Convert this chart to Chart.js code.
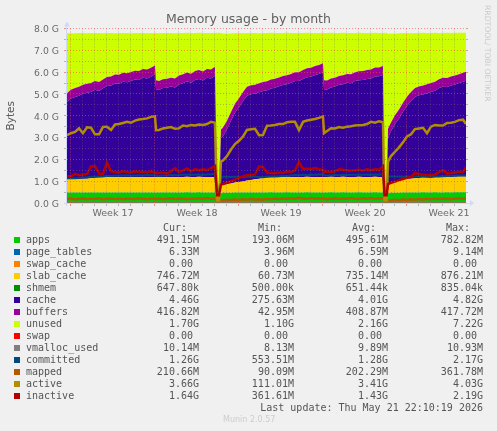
<!DOCTYPE html>
<html><head><meta charset="utf-8">
<script src="https://cdn.jsdelivr.net/npm/chart.js@4"></script>
<style>
html,body{margin:0;padding:0;background:#f0f0f0;width:497px;height:431px;overflow:hidden}
#wrap{position:relative;width:497px;height:431px}
canvas{position:absolute;left:0;top:0}
.t{position:absolute;font:10px/12px "DejaVu Sans Mono",monospace;color:#555;white-space:pre}
.r{text-align:right}
.sw{position:absolute;width:6px;height:6px}
</style></head><body><div id="wrap"><canvas id="c" width="497" height="431"></canvas></div>
<script>
const days=[0,.33,.67,1,1.33,1.67,2,2.33,2.67,3,3.33,3.67,4,4.33,4.67,5,5.33,5.67,6,6.33,6.67,7,7.33,
7.42,7.67,8,8.33,8.67,9,9.33,9.67,10,10.33,10.67,11,11.33,11.67,12,12.33,
12.5,12.67,12.83,
13,13.33,13.67,14,14.33,14.67,15,15.33,15.67,16,16.33,16.67,17,17.33,17.67,18,18.33,18.67,19,19.33,19.67,20,20.33,20.67,21,21.33,
21.42,21.67,22,22.33,22.67,23,23.33,23.67,24,24.33,24.67,25,25.33,25.67,26,26.33,
26.46,26.63,26.75,
27,27.33,27.67,28,28.33,28.67,29,29.33,29.67,30,30.33,30.67,31,31.33,31.67,32,32.33,32.67,33,33.25];
const apps=[.48,.48,.47,.48,.48,.47,.48,.48,.48,.47,.48,.48,.47,.48,.48,.48,.47,.48,.48,.48,.47,.48,.48,
.48,.47,.48,.48,.48,.47,.48,.48,.49,.48,.48,.49,.48,.48,.48,.48,
.2,.2,.45,
.46,.47,.47,.48,.48,.47,.48,.48,.48,.47,.48,.48,.49,.48,.48,.48,.49,.48,.48,.48,.48,.49,.48,.48,.48,.48,
.48,.48,.49,.48,.48,.49,.48,.48,.48,.49,.48,.48,.48,.49,.48,.48,
.2,.2,.45,
.46,.47,.47,.48,.48,.47,.48,.48,.49,.48,.48,.49,.48,.48,.49,.48,.49,.49,.49,.49];
const page_tables=[.006,.006,.006,.006,.006,.006,.006,.006,.006,.006,.007,.007,.007,.007,.007,.007,.007,.007,.007,.007,.007,.007,.007,
.007,.007,.007,.007,.007,.007,.007,.007,.007,.007,.007,.007,.007,.007,.007,.007,
.004,.004,.005,
.005,.005,.005,.005,.006,.006,.006,.006,.006,.006,.006,.006,.007,.007,.007,.007,.007,.007,.007,.007,.007,.007,.007,.007,.007,.007,
.007,.007,.007,.007,.007,.007,.007,.007,.007,.007,.007,.007,.007,.007,.007,.007,
.004,.004,.005,
.005,.005,.005,.005,.006,.006,.006,.006,.006,.006,.006,.006,.006,.006,.006,.006,.006,.006,.006,.006];
const swap_cache=[0,0,0,0,0,0,0,0,0,0,0,0,0,0,0,0,0,0,0,0,0,0,0,
0,0,0,0,0,0,0,0,0,0,0,0,0,0,0,0,
0,0,0,
0,0,0,0,0,0,0,0,0,0,0,0,0,0,0,0,0,0,0,0,0,0,0,0,0,0,
0,0,0,0,0,0,0,0,0,0,0,0,0,0,0,0,
0,0,0,
0,0,0,0,0,0,0,0,0,0,0,0,0,0,0,0,0,0,0,0];
const slab_cache=[.61,.61,.61,.62,.63,.64,.65,.67,.68,.69,.7,.7,.71,.71,.71,.71,.71,.71,.71,.71,.71,.71,.71,
.71,.71,.71,.71,.71,.71,.71,.71,.71,.71,.71,.71,.71,.71,.71,.71,
.06,.06,.33,
.36,.39,.42,.45,.48,.51,.54,.57,.6,.63,.66,.68,.7,.71,.71,.71,.71,.71,.71,.71,.71,.71,.71,.71,.71,.71,
.71,.71,.71,.71,.71,.71,.71,.71,.71,.71,.71,.71,.71,.71,.71,.71,
.06,.06,.36,
.43,.5,.55,.59,.62,.64,.65,.66,.67,.68,.68,.69,.7,.7,.71,.71,.71,.72,.72,.72];
const shmem=[.0006,.0006,.0006,.0006,.0006,.0006,.0006,.0006,.0006,.0006,.0006,.0006,.0006,.0006,.0006,.0006,.0006,.0006,.0006,.0006,.0006,.0006,.0006,
.0006,.0006,.0006,.0006,.0006,.0006,.0006,.0006,.0006,.0006,.0006,.0006,.0006,.0006,.0006,.0006,
.0005,.0005,.0005,
.0006,.0006,.0006,.0006,.0006,.0006,.0006,.0006,.0006,.0006,.0006,.0006,.0006,.0006,.0006,.0006,.0006,.0006,.0006,.0006,.0006,.0006,.0006,.0006,.0006,.0006,
.0006,.0006,.0006,.0006,.0006,.0006,.0006,.0006,.0006,.0006,.0006,.0006,.0006,.0006,.0006,.0006,
.0005,.0005,.0005,
.0006,.0006,.0006,.0006,.0006,.0006,.0006,.0006,.0006,.0006,.0006,.0006,.0006,.0006,.0006,.0006,.0006,.0006,.0006,.0006];
const cache=[3.54,3.69,3.77,3.81,3.9,3.94,3.95,4.03,3.97,4.09,4.18,4.2,4.29,4.27,4.36,4.34,4.41,4.46,4.44,4.54,4.52,4.59,4.7,
4.02,3.99,4.07,4.09,4.14,4.11,4.24,4.29,4.37,4.32,4.44,4.48,4.42,4.54,4.51,4.64,
.28,.28,2.18,
2.24,2.51,2.88,3.2,3.42,3.69,3.89,3.93,3.92,3.97,3.99,4,4.05,4.09,4.15,4.21,4.24,4.31,4.39,4.39,4.49,4.56,4.59,4.67,4.72,4.8,
4.02,4.01,4.09,4.14,4.22,4.24,4.31,4.29,4.39,4.42,4.44,4.49,4.51,4.59,4.61,4.67,
.28,.28,2.19,
2.39,2.65,2.85,3.11,3.35,3.56,3.73,3.79,3.81,3.87,3.92,3.96,4.08,4.14,4.11,4.19,4.23,4.28,4.34,4.39];
const buffers=[.4,.4,.41,.41,.41,.41,.41,.41,.41,.41,.41,.41,.41,.41,.41,.41,.41,.41,.41,.41,.41,.41,.41,
.41,.41,.41,.41,.41,.41,.41,.41,.41,.41,.41,.41,.41,.41,.41,.41,
.04,.04,.4,
.4,.4,.4,.41,.41,.41,.41,.41,.41,.41,.41,.41,.41,.41,.41,.41,.41,.41,.41,.41,.41,.41,.41,.41,.41,.41,
.41,.41,.41,.41,.41,.41,.41,.41,.41,.41,.41,.41,.41,.41,.41,.41,
.04,.04,.4,
.4,.4,.41,.41,.41,.41,.41,.41,.41,.41,.41,.41,.41,.41,.41,.41,.41,.41,.41,.41];
const unused=[2.75,2.6,2.52,2.47,2.37,2.32,2.3,2.2,2.25,2.12,2.02,2,1.9,1.92,1.83,1.85,1.78,1.73,1.75,1.65,1.67,1.6,1.49,
2.17,2.2,2.12,2.1,2.05,2.08,1.95,1.9,1.82,1.87,1.75,1.71,1.77,1.65,1.68,1.55,
7.22,7.22,4.43,
4.3,4,3.6,3.25,3,2.7,2.47,2.4,2.38,2.3,2.25,2.22,2.15,2.1,2.04,1.98,1.95,1.88,1.8,1.8,1.7,1.63,1.6,1.52,1.47,1.39,
2.17,2.18,2.1,2.05,1.97,1.95,1.88,1.9,1.8,1.77,1.75,1.7,1.68,1.6,1.58,1.52,
7.22,7.22,4.35,
4.08,3.75,3.5,3.2,2.93,2.7,2.52,2.45,2.42,2.35,2.3,2.25,2.12,2.06,2.08,2,1.96,1.9,1.84,1.79];
const swap=[0,0,0,0,0,0,0,0,0,0,0,0,0,0,0,0,0,0,0,0,0,0,0,
0,0,0,0,0,0,0,0,0,0,0,0,0,0,0,0,
0,0,0,
0,0,0,0,0,0,0,0,0,0,0,0,0,0,0,0,0,0,0,0,0,0,0,0,0,0,
0,0,0,0,0,0,0,0,0,0,0,0,0,0,0,0,
0,0,0,
0,0,0,0,0,0,0,0,0,0,0,0,0,0,0,0,0,0,0,0];
const vmalloc_used=[.01,.01,.01,.01,.01,.01,.01,.01,.01,.01,.01,.01,.01,.01,.01,.01,.01,.01,.01,.01,.01,.01,.01,
.01,.01,.01,.01,.01,.01,.01,.01,.01,.01,.01,.01,.01,.01,.01,.01,
.008,.008,.009,
.009,.009,.009,.01,.01,.01,.01,.01,.01,.01,.01,.01,.01,.01,.01,.01,.01,.01,.01,.01,.01,.01,.01,.01,.01,.01,
.01,.01,.01,.01,.01,.01,.01,.01,.01,.01,.01,.01,.01,.01,.01,.01,
.008,.008,.009,
.009,.009,.009,.01,.01,.01,.01,.01,.01,.01,.01,.01,.01,.01,.01,.01,.01,.01,.01,.01];
const committed=[1.13,1.13,1.14,1.15,1.17,1.18,1.2,1.2,1.22,1.23,1.24,1.24,1.26,1.25,1.26,1.27,1.25,1.26,1.27,1.26,1.28,1.27,1.28,
1.25,1.24,1.26,1.26,1.28,1.27,1.28,1.3,1.29,1.3,1.3,1.31,1.3,1.31,1.32,1.34,
.55,.55,1.2,
1.2,1.2,1.19,1.2,1.2,1.19,1.2,1.2,1.2,1.19,1.18,1.2,1.22,1.21,1.23,1.25,1.24,1.26,1.28,1.27,1.29,1.28,1.3,1.29,1.31,1.32,
1.27,1.26,1.27,1.28,1.27,1.29,1.28,1.3,1.29,1.3,1.29,1.31,1.3,1.31,1.3,1.33,
.55,.55,1.22,
1.22,1.21,1.22,1.2,1.21,1.2,1.22,1.21,1.22,1.2,1.19,1.21,1.22,1.23,1.24,1.25,1.25,1.26,1.26,1.26];
const mapped=[.18,.2,.16,.19,.21,.17,.2,.18,.22,.17,.19,.21,.18,.2,.17,.21,.19,.18,.22,.19,.17,.2,.21,
.18,.2,.17,.19,.22,.18,.2,.21,.17,.2,.19,.22,.18,.23,.2,.21,
.09,.09,.14,
.13,.15,.14,.16,.14,.17,.15,.18,.16,.17,.15,.19,.17,.2,.18,.21,.19,.22,.2,.24,.21,.19,.23,.2,.22,.21,
.19,.17,.2,.22,.18,.21,.19,.23,.2,.18,.22,.2,.23,.19,.21,.22,
.09,.09,.13,
.12,.15,.13,.16,.14,.17,.15,.18,.16,.19,.17,.2,.18,.21,.19,.17,.2,.22,.19,.21];
const active=[3.11,3.2,3.26,3.42,3.2,3.47,3.45,3.15,3.15,3.49,3.5,3.35,3.6,3.62,3.67,3.72,3.68,3.78,3.83,3.85,3.88,3.95,3.98,
3.34,3.35,3.42,3.45,3.48,3.4,3.42,3.55,3.52,3.58,3.55,3.6,3.58,3.62,3.72,3.68,
.11,.11,1.9,
1.95,2.15,2.45,2.7,2.85,3.05,3.35,3.38,3.4,3.11,3.12,3.54,3.55,3.58,3.62,3.62,3.7,3.72,3.72,3.34,3.72,3.78,3.82,3.85,3.9,3.97,
3.2,3.3,3.43,3.42,3.48,3.45,3.5,3.52,3.55,3.57,3.58,3.62,3.72,3.68,3.75,3.7,
.11,.11,1.9,
2.15,2.35,2.55,2.78,3.05,3.15,3.39,3.42,3.45,3.2,3.5,3.57,3.55,3.55,3.67,3.68,3.72,3.8,3.82,3.62];
const inactive=[1.24,1.22,1.33,1.27,1.3,1.33,1.68,1.7,1.35,1.33,1.85,1.45,1.42,1.4,1.45,1.42,1.4,1.45,1.42,1.43,1.4,1.44,1.4,
1.37,1.38,1.4,1.35,1.45,1.6,1.42,1.5,1.58,1.45,1.55,1.5,1.55,1.5,1.6,1.7,
.36,.36,.85,
.87,.93,1,1.07,1.15,1.22,1.27,1.28,1.3,1.68,1.65,1.4,1.38,1.36,1.4,1.38,1.45,1.42,1.5,1.88,1.55,1.58,1.55,1.6,1.55,1.52,
1.42,1.44,1.42,1.45,1.55,1.52,1.5,1.48,1.5,1.52,1.48,1.55,1.5,1.55,1.52,1.68,
.36,.36,.87,
.92,.98,1.05,1.1,1.15,1.2,1.38,1.32,1.3,1.28,1.27,1.3,1.42,1.5,1.35,1.38,1.4,1.42,1.42,1.62];

const yTicks=[0,.5,1,1.5,2,2.5,3,3.5,4,4.5,5,5.5,6,6.5,7,7.5,8];
const weekLabels=["Week 17","Week 18","Week 19","Week 20","Week 21"];
const weekCentres=[3.83,10.83,17.83,24.83,31.83];
const weekStarts=[.33,7.33,14.33,21.33,28.33];
const dayLines=[.33,1.33,2.33,3.33,4.33,5.33,6.33,7.33,8.33,9.33,10.33,11.33,12.33,13.33,14.33,15.33,16.33,17.33,18.33,19.33,20.33,21.33,22.33,23.33,24.33,25.33,26.33,27.33,28.33,29.33,30.33,31.33,32.33];

const names=["apps","page_tables","swap_cache","slab_cache","shmem","cache","buffers","unused","swap","vmalloc_used","committed","mapped","active","inactive"];
const colours=["#00CC00","#0066B3","#FF8000","#FFCC00","#008F00","#330099","#990099","#CCFF00","#FF0000","#808080","#00487D","#B35A00","#B38F00","#B30000"];
const curText=["491.15M","6.33M","0.00 ","746.72M","647.80k","4.46G","416.82M","1.70G","0.00 ","10.14M","1.26G","210.66M","3.66G","1.64G"];
const minText=["193.06M","3.96M","0.00 ","60.73M","500.00k","275.63M","42.95M","1.10G","0.00 ","8.13M","553.51M","90.09M","111.01M","361.61M"];
const avgText=["495.61M","6.59M","0.00 ","735.14M","651.44k","4.01G","408.87M","2.16G","0.00 ","9.89M","1.28G","202.29M","3.41G","1.43G"];
const maxText=["782.82M","9.14M","0.00 ","876.21M","835.04k","4.82G","417.72M","7.22G","0.00 ","10.93M","2.17G","361.78M","4.03G","2.19G"];

const pts=a=>a.map((v,i)=>({x:days[i],y:v}));
const area=(i,a,fill)=>({label:names[i],data:pts(a),yAxisID:'y',fill,backgroundColor:colours[i],borderColor:colours[i],borderWidth:0,pointRadius:0,tension:0});
const line=(i,a,w)=>({label:names[i],data:pts(a),yAxisID:'y2',fill:false,borderColor:colours[i],borderWidth:w,pointRadius:0,tension:0});
const isStart=v=>weekStarts.includes(v), isMid=v=>weekCentres.includes(v);
const yGrid=c=>{const v=c.tick&&c.tick.value;return Number.isInteger(v)?'rgba(240,80,50,.6)':'rgba(110,110,110,.45)';};

// Axis lines and arrow heads, as rrdtool draws them
const arrows={id:'arrows',afterDraw(ch){
  const g=ch.ctx,a=ch.chartArea;g.save();g.fillStyle='#cfd8f8';g.strokeStyle='#cfd8f8';g.lineWidth=1;
  g.beginPath();g.moveTo(a.left-.5,a.top-2);g.lineTo(a.left-.5,a.bottom+3);g.stroke();
  g.beginPath();g.moveTo(a.left-3,a.bottom+.5);g.lineTo(a.right+4,a.bottom+.5);g.stroke();
  g.beginPath();g.moveTo(a.left-3,a.top-2);g.lineTo(a.left+3,a.top-2);g.lineTo(a.left,a.top-7);g.fill();
  g.beginPath();g.moveTo(a.right+4,a.bottom-3);g.lineTo(a.right+4,a.bottom+3);g.lineTo(a.right+8,a.bottom);g.fill();
  g.restore();
}};

new Chart(document.getElementById('c'),{
  type:'line',
  data:{datasets:[
    line(13,inactive,2.5),line(12,active,2.5),line(11,mapped,2.5),line(10,committed,2),line(9,vmalloc_used,1),line(8,swap,1),
    area(0,apps,'origin'),area(1,page_tables,'-1'),area(2,swap_cache,'-1'),area(3,slab_cache,'-1'),
    area(4,shmem,'-1'),area(5,cache,'-1'),area(6,buffers,'-1'),area(7,unused,'-1')
  ]},
  plugins:[arrows],
  options:{
    responsive:false,animation:false,devicePixelRatio:1,
    layout:{padding:0},
    plugins:{legend:{display:false},tooltip:{enabled:false},
      title:{display:true,text:'Memory usage - by month',color:'#606060',font:{family:'"DejaVu Sans"',size:12.5,weight:'normal',lineHeight:1.2},padding:{top:12,bottom:1.5}}},
    scales:{
      x:{type:'linear',min:0,max:33.25,
        afterBuildTicks(s){s.ticks=[...dayLines,...weekCentres].sort((a,b)=>a-b).map(v=>({value:v}));},
        afterFit(s){s.height=228;},
        ticks:{autoSkip:false,maxRotation:0,padding:2,color:'#6a6a6a',font:{family:'"DejaVu Sans"',size:9.5},
          callback(v){const i=weekCentres.indexOf(v);return i>=0?weekLabels[i]:'';}},
        border:{display:false,dash:[1,2]},
        grid:{z:1,tickLength:3,lineWidth:1,
          color:c=>{const v=c.tick&&c.tick.value;return isMid(v)?'rgba(0,0,0,0)':isStart(v)?'rgba(240,80,50,.6)':'rgba(110,110,110,.45)';}}
      },
      y:{stacked:true,position:'left',min:0,max:8,
        afterBuildTicks(s){s.ticks=yTicks.map(v=>({value:v}));},
        afterFit(s){s.width=67;},
        title:{display:true,text:'Bytes',color:'#555',font:{family:'"DejaVu Sans"',size:10.5},padding:{top:5,bottom:0}},
        ticks:{autoSkip:false,padding:5,color:'#6a6a6a',font:{family:'"DejaVu Sans"',size:9.3,lineHeight:'3px'},
          callback(v){return Number.isInteger(v)?['',v.toFixed(1)+' G']:'';}},
        border:{display:false,dash:[1,2]},
        grid:{z:1,tickLength:3,lineWidth:1,color:yGrid}
      },
      y2:{display:false,stacked:false,min:0,max:8},
      yRight:{position:'right',min:0,max:8,
        afterBuildTicks(s){s.ticks=yTicks.map(v=>({value:v}));},
        afterFit(s){s.width=31;},
        ticks:{display:false},
        border:{display:false},
        grid:{drawOnChartArea:false,tickLength:2,lineWidth:1,color:yGrid}
      }
    }
  }
});

// Text legend
const wrap=document.getElementById('wrap');
function put(txt,css){const e=document.createElement('div');e.className='t';e.textContent=txt;e.style.cssText=css;wrap.appendChild(e);return e;}
[["Cur:",187],["Min:",282],["Avg:",376],["Max:",470]].forEach(h=>put(h[0],`right:${497-h[1]}px;top:222px`));
names.forEach((n,i)=>{
  const y=234+12*i;
  const s=document.createElement('div');s.className='sw';s.style.cssText=`left:14px;top:${y+3}px;background:${colours[i]}`;wrap.appendChild(s);
  put(n,`left:26px;top:${y}px`);
  [[curText,199],[minText,294],[avgText,388],[maxText,483]].forEach(c=>put(c[0][i],`right:${497-c[1]}px;top:${y}px`));
});
put("Last update: Thu May 21 22:10:19 2026",'right:14px;top:402px');
put("Munin 2.0.57",'left:223px;top:414px;font:8px/12px "DejaVu Sans",sans-serif;color:#ccc');
put("RRDTOOL/ TOBI OETIKER",'left:483px;top:5px;writing-mode:vertical-rl;font:7.7px/9px "DejaVu Sans",sans-serif;color:#ccc');
</script></body></html>
